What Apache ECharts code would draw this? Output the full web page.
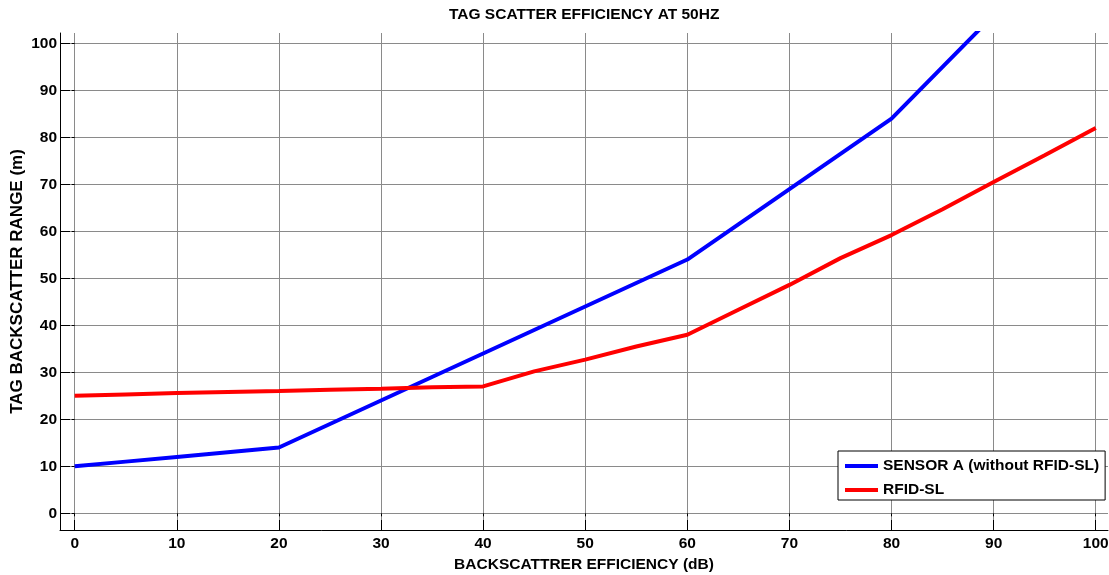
<!DOCTYPE html>
<html>
<head>
<meta charset="utf-8">
<script src="https://cdn.jsdelivr.net/npm/echarts@6/dist/echarts.min.js"></script>
<style>
  html, body { margin: 0; padding: 0; background: #fff; }
  #chart { width: 1109px; height: 575px; }
</style>
</head>
<body>
<div id="chart"></div>
<script>
// ---- Data ----
const titleText = 'TAG SCATTER EFFICIENCY AT 50HZ';
const xName = 'BACKSCATTRER EFFICIENCY (dB)';
const yName = 'TAG BACKSCATTER RANGE (m)';
const seriesNames = ['SENSOR A (without RFID-SL)', 'RFID-SL'];

const xTicks = [0, 10, 20, 30, 40, 50, 60, 70, 80, 90, 100];
const yTicks = [0, 10, 20, 30, 40, 50, 60, 70, 80, 90, 100];

const sensorX = [0, 5, 10, 15, 20, 25, 30, 35, 40, 45, 50, 55, 60, 65, 70, 75, 80, 85, 90];
const sensorY = [10, 11, 12, 13, 14, 19, 24, 29, 34, 39, 44, 49, 54, 61.5, 69, 76.5, 84, 95, 106];

const rfidX = [0, 5, 10, 15, 20, 25, 30, 35, 40, 45, 50, 55, 60, 65, 70, 75, 80, 85, 90, 95, 100];
const rfidY = [25, 25.3, 25.6, 25.8, 26, 26.3, 26.5, 26.8, 27, 30.2, 32.7, 35.5, 38, 43.3, 48.6, 54.3, 59.2, 64.7, 70.5, 76.2, 82];

// ---- Chart ----
const FONT = '"Liberation Sans", Arial, sans-serif';
const FS = 15.5;
const chart = echarts.init(document.getElementById('chart'), null, { renderer: 'canvas' });

const pair = (xs, ys) => xs.map((x, i) => [x, ys[i]]);

const xMin = -1.44, xMax = 101.2, yMin = -3.55, yMax = 102.2;

const option = {
  backgroundColor: '#fff',
  animation: false,
  title: {
    text: titleText,
    left: 449, top: 7,
    padding: 0,
    textStyle: { fontFamily: FONT, fontSize: FS, fontWeight: 'bold', color: '#000' }
  },
  legend: {
    orient: 'vertical',
    left: 838, top: 451,
    padding: [6, 6, 1, 7],
    itemGap: 6,
    itemWidth: 33, itemHeight: 4,
    icon: 'rect',
    backgroundColor: '#fff',
    borderColor: '#000', borderWidth: 1,
    textStyle: { fontFamily: FONT, fontSize: FS, fontWeight: 'bold', color: '#000', lineHeight: 18 },
    data: seriesNames
  },
  grid: { left: 60, right: 1, top: 33, bottom: 45, containLabel: false, outerBoundsMode: 'none' },
  xAxis: [{
    type: 'value', position: 'bottom', min: xMin, max: xMax,
    name: xName, nameLocation: 'middle', nameGap: 24,
    nameTextStyle: { fontFamily: FONT, fontSize: FS, fontWeight: 'bold', color: '#000' },
    axisLine: { show: true, onZero: false, lineStyle: { color: '#000', width: 1 } },
    axisTick: { show: true, inside: true, length: 10, customValues: xTicks, lineStyle: { color: '#000' } },
    axisLabel: { show: true, margin: 6, customValues: xTicks, fontFamily: FONT, fontSize: FS, fontWeight: 'bold', color: '#000' },
    splitLine: { show: true, lineStyle: { color: '#8a8a8a', width: 1 } }
  }, {
    type: 'value', position: 'top', min: xMin, max: xMax,
    axisLine: { show: false },
    axisTick: { show: true, inside: true, length: 3, customValues: xTicks, lineStyle: { color: '#000' } },
    axisLabel: { show: false },
    splitLine: { show: false }
  }],
  yAxis: [{
    type: 'value', position: 'left', min: yMin, max: yMax,
    name: yName, nameLocation: 'middle', nameGap: 34, nameRotate: 90, nameMoveOverlap: false,
    nameTextStyle: { fontFamily: FONT, fontSize: 17, fontWeight: 'bold', color: '#000' },
    axisLine: { show: true, onZero: false, lineStyle: { color: '#000', width: 1 } },
    axisTick: { show: true, inside: true, length: 10, customValues: yTicks, lineStyle: { color: '#000' } },
    axisLabel: { show: true, margin: 3, customValues: yTicks, fontFamily: FONT, fontSize: FS, fontWeight: 'bold', color: '#000' },
    splitLine: { show: true, lineStyle: { color: '#8a8a8a', width: 1 } }
  }, {
    type: 'value', position: 'right', min: yMin, max: yMax,
    axisLine: { show: false },
    axisTick: { show: true, inside: true, length: 3, customValues: yTicks, lineStyle: { color: '#000' } },
    axisLabel: { show: false },
    splitLine: { show: false }
  }],
  series: [{
    name: seriesNames[0], type: 'line', xAxisIndex: 0, yAxisIndex: 0,
    data: pair(sensorX, sensorY),
    showSymbol: false, symbol: 'none', clip: true,
    lineStyle: { color: '#0000ff', width: 4 }, itemStyle: { color: '#0000ff' }
  }, {
    name: seriesNames[1], type: 'line', xAxisIndex: 0, yAxisIndex: 0,
    data: pair(rfidX, rfidY),
    showSymbol: false, symbol: 'none', clip: true,
    lineStyle: { color: '#ff0000', width: 4 }, itemStyle: { color: '#ff0000' }
  }]
};
chart.setOption(option);
</script>
</body>
</html>
